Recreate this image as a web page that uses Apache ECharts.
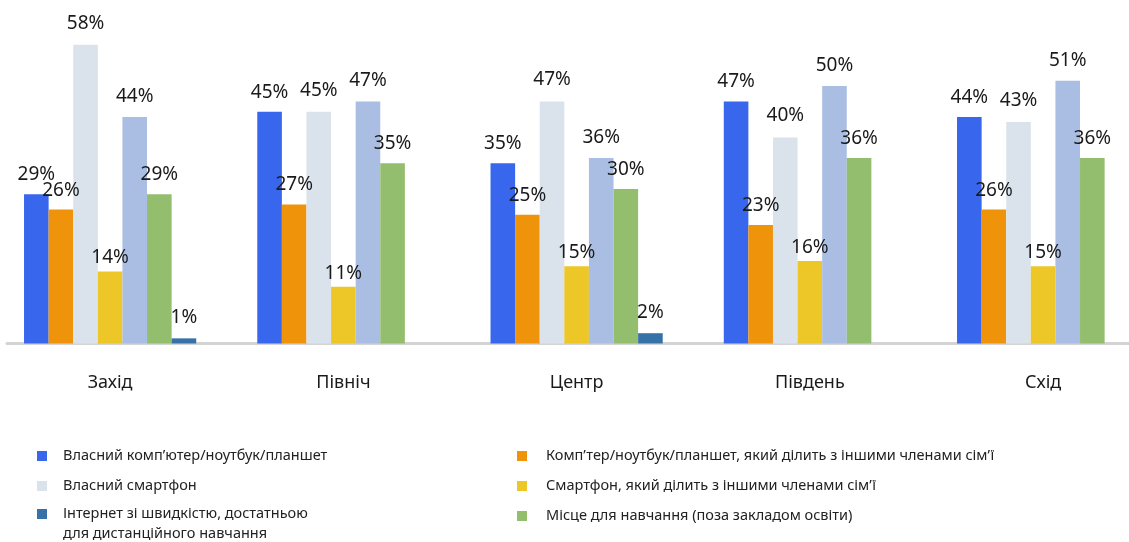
<!DOCTYPE html>
<html>
<head>
<meta charset="utf-8">
<script src="https://cdn.jsdelivr.net/npm/echarts@6/dist/echarts.min.js"></script>
<style>
html,body{margin:0;padding:0;background:#fff;}
#chart{width:1129px;height:542px;}
</style>
</head>
<body>
<div id="chart"></div>
<script>
const categories = ['Захід', 'Північ', 'Центр', 'Південь', 'Схід'];

const ownComputer = [29, 45, 35, 47, 44];
const sharedComputer = [26, 27, 25, 23, 26];
const ownSmartphone = [58, 45, 47, 40, 43];
const sharedSmartphone = [14, 11, 15, 16, 15];
const unlabeledSeries = [44, 47, 36, 50, 51];
const studyPlace = [29, 35, 30, 36, 36];
const internet = [1, null, 2, null, null];

const names = {
  ownComputer: 'Власний комп’ютер/ноутбук/планшет',
  sharedComputer: 'Комп’тер/ноутбук/планшет, який ділить з іншими членами сім’ї',
  ownSmartphone: 'Власний смартфон',
  sharedSmartphone: 'Смартфон, який ділить з іншими членами сім’ї',
  unlabeled: 'Інше',
  studyPlace: 'Місце для навчання (поза закладом освіти)',
  internet: 'Інтернет зі швидкістю, достатньою\nдля дистанційного навчання'
};

const FONT = '"Noto Sans", "DejaVu Sans", sans-serif';

function barSeries(name, data, color, dist) {
  return {
    name: name,
    type: 'bar',
    data: data,
    barWidth: 24.6,
    barGap: '0%',
    itemStyle: { color: color },
    label: {
      show: true,
      position: 'top',
      distance: dist,
      formatter: function (p) { return p.value == null ? '' : p.value + '%'; },
      color: '#1a1a1a',
      fontSize: 19,
      fontFamily: FONT
    }
  };
}

function legendBlock(left, top, items, padLeft, formatter) {
  const l = {
    orient: 'vertical',
    left: left,
    top: top,
    height: 200,
    padding: 0,
    itemWidth: 10,
    itemHeight: 10,
    itemGap: 10,
    icon: 'rect',
    selectedMode: false,
    textStyle: { color: '#222', fontSize: 14.5, fontFamily: FONT, lineHeight: 20, padding: [0, 0, 0, padLeft] },
    data: items
  };
  if (formatter) l.formatter = formatter;
  return l;
}

const chart = echarts.init(document.getElementById('chart'), null, { renderer: 'canvas' });

chart.setOption({
  animation: false,
  backgroundColor: '#ffffff',
  grid: [
    { left: -6.5, right: -30.75, top: 34.5, bottom: 198.5, containLabel: false, outerBoundsMode: 'none' },
    { left: 7, right: 0, top: 34.5, bottom: 198.5, containLabel: false, outerBoundsMode: 'none' }
  ],
  xAxis: [
    {
      type: 'category',
      gridIndex: 0,
      data: categories,
      axisLine: { show: false },
      axisTick: { show: false },
      axisLabel: { margin: 30, color: '#1a1a1a', fontSize: 18, fontFamily: FONT }
    },
    {
      type: 'category',
      gridIndex: 1,
      data: [''],
      axisLine: { show: true, lineStyle: { color: '#d3d3d3', width: 3 } },
      axisTick: { show: false },
      axisLabel: { show: false }
    }
  ],
  yAxis: [
    { type: 'value', gridIndex: 0, min: 0, max: 60, show: false },
    { type: 'value', gridIndex: 1, min: 0, max: 60, show: false }
  ],
  legend: [
    legendBlock(37, 446, [{ name: names.ownComputer }, { name: names.ownSmartphone }], 11),
    legendBlock(37, 484, [{ name: names.internet }], 11, function (name) { return '\n' + name; }),
    legendBlock(517, 446, [{ name: names.sharedComputer }, { name: names.sharedSmartphone }, { name: names.studyPlace }], 14)
  ],
  series: [
    barSeries(names.ownComputer, ownComputer, '#3867ee', 10),
    barSeries(names.sharedComputer, sharedComputer, '#ee930a', 10),
    barSeries(names.ownSmartphone, ownSmartphone, '#dae3ec', 12),
    barSeries(names.sharedSmartphone, sharedSmartphone, '#edc627', 4),
    barSeries(names.unlabeled, unlabeledSeries, '#aabde3', 11),
    barSeries(names.studyPlace, studyPlace, '#93be6e', 10),
    barSeries(names.internet, internet, '#3672a8', 11)
  ]
});
</script>
</body>
</html>
